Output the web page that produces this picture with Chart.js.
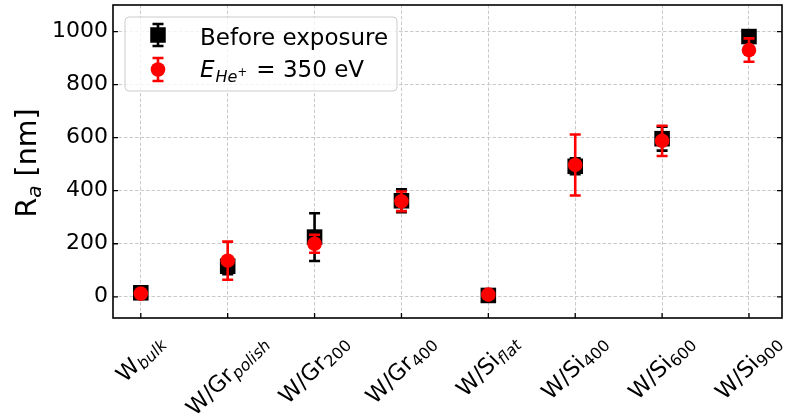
<!DOCTYPE html>
<html>
<head>
<meta charset="utf-8">
<title>Ra</title>
<script src="https://cdn.jsdelivr.net/npm/chart.js@4.4.0/dist/chart.umd.min.js"></script>
<style>
    html, body { margin: 0; padding: 0; background: #fff; }
    #wrap { width: 785px; height: 414px; }
</style>
</head>
<body>
<div id="wrap"><canvas id="raChart" width="785" height="414"></canvas></div>
<script>
// Samples: main name + subscript
const sampleNames = ['W', 'W/Gr', 'W/Gr', 'W/Gr', 'W/Si', 'W/Si', 'W/Si', 'W/Si'];
const sampleSubs = ['bulk', 'polish', '200', '400', 'flat', '400', '600', '900'];

// Roughness Ra [nm] and its error
const raBefore = [15, 115, 225, 362, 5, 492, 596, 981];
const raBeforeErr = [8, 30, 90, 43, 6, 30, 45, 20];
const raExposed = [12, 136, 200, 360, 8, 497, 588, 930];
const raExposedErr = [6, 72, 34, 37, 6, 115, 57, 44];

const yTicks = [0, 200, 400, 600, 800, 1000];

const FONT = '"DejaVu Sans"';

function toPoints(values) {
    return values.map((v, i) => ({ x: i, y: v }));
}

function fontStr(seg) {
    return (seg.italic ? 'italic ' : '') + seg.size + 'px ' + FONT;
}

function richWidth(c, segs) {
    let w = 0;
    segs.forEach(s => {
        c.font = fontStr(s);
        w += c.measureText(s.text).width + (s.gap || 0);
    });
    return w;
}

function drawRich(c, segs, x, y) {
    segs.forEach(s => {
        c.font = fontStr(s);
        c.fillText(s.text, x, y + (s.dy || 0));
        x += c.measureText(s.text).width + (s.gap || 0);
    });
}

// Vertical error bar with caps
function errBar(c, x, top, bot, color) {
    c.save();
    c.strokeStyle = color;
    c.lineWidth = 2.6;
    c.beginPath();
    c.moveTo(x, top); c.lineTo(x, bot);
    c.moveTo(x - 5.5, top); c.lineTo(x + 5.5, top);
    c.moveTo(x - 5.5, bot); c.lineTo(x + 5.5, bot);
    c.stroke();
    c.restore();
}

// Error bars drawn just under the markers of each dataset
const errorBars = {
    id: 'errorBars',
    beforeDatasetDraw(chart, args) {
        const ds = chart.data.datasets[args.index];
        const ys = chart.scales.y;
        args.meta.data.forEach((pt, i) => {
            const v = ds.data[i].y;
            const e = ds.err[i];
            errBar(chart.ctx, pt.x, ys.getPixelForValue(v + e), ys.getPixelForValue(v - e), ds.backgroundColor);
        });
    }
};

// Frame, inward ticks, rotated x labels, y title and legend
const decorations = {
    id: 'decorations',
    afterDraw(chart) {
        const c = chart.ctx;
        const a = chart.chartArea;
        const xs = chart.scales.x;
        const ys = chart.scales.y;

        c.save();
        c.strokeStyle = '#000';
        c.lineWidth = 1.3;
        c.beginPath();
        yTicks.forEach(v => {
            const py = ys.getPixelForValue(v);
            c.moveTo(a.left, py); c.lineTo(a.left + 5, py);
            c.moveTo(a.right, py); c.lineTo(a.right - 5, py);
        });
        sampleNames.forEach((_, i) => {
            const px = xs.getPixelForValue(i);
            c.moveTo(px, a.bottom); c.lineTo(px, a.bottom - 5);
        });
        c.stroke();

        c.lineWidth = 1.6;
        c.strokeRect(a.left, a.top, a.right - a.left, a.bottom - a.top);

        // x labels rotated 45 degrees
        c.fillStyle = '#000';
        c.textBaseline = 'alphabetic';
        c.textAlign = 'left';
        sampleNames.forEach((name, i) => {
            const sub = sampleSubs[i];
            const segs = [
                { text: name, size: 22.5 },
                { text: sub, size: 16, italic: /[a-z]/.test(sub), dy: 4 }
            ];
            const w = richWidth(c, segs);
            const h = 26;
            const box = (w + h) / Math.SQRT2;
            const px = xs.getPixelForValue(i);
            c.save();
            c.translate(px, a.bottom + 12 + box / 2);
            c.rotate(-Math.PI / 4);
            drawRich(c, segs, -w / 2, 6);
            c.restore();
        });

        // y axis title
        const title = [
            { text: 'R', size: 28.5 },
            { text: 'a', size: 20, italic: true, dy: 5 },
            { text: ' [nm]', size: 28.5 }
        ];
        const tw = richWidth(c, title);
        c.save();
        c.translate(36, 163);
        c.rotate(-Math.PI / 2);
        drawRich(c, title, -tw / 2, 0);
        c.restore();

        // legend
        c.beginPath();
        c.roundRect(125, 17, 272, 74, 4);
        c.fillStyle = 'rgba(255,255,255,0.8)';
        c.fill();
        c.strokeStyle = '#cccccc';
        c.lineWidth = 1;
        c.stroke();

        errBar(c, 158, 24, 46, '#000');
        c.fillStyle = '#000';
        c.fillRect(158 - 7.75, 35 - 7.75, 15.5, 15.5);

        errBar(c, 158, 58, 81, '#ff0000');
        c.fillStyle = '#ff0000';
        c.beginPath();
        c.arc(158, 69.5, 7.3, 0, Math.PI * 2);
        c.fill();

        c.fillStyle = '#000';
        drawRich(c, [{ text: 'Before exposure', size: 23 }], 200, 45);
        drawRich(c, [
            { text: 'E', size: 23, italic: true, gap: 1 },
            { text: 'He', size: 16, italic: true, dy: 4.5 },
            { text: '+', size: 11.5, dy: -1, gap: 2 },
            { text: ' = 350 eV', size: 23 }
        ], 200, 77);
        c.restore();
    }
};

function noPadding(s) {
    s.paddingTop = 0;
    s.paddingBottom = 0;
    s.paddingLeft = 0;
    s.paddingRight = 0;
}

const ctx = document.getElementById('raChart').getContext('2d');
const raChart = new Chart(ctx, {
    type: 'scatter',
    data: {
        datasets: [{
            label: 'Before exposure',
            data: toPoints(raBefore),
            err: raBeforeErr,
            pointStyle: 'rect',
            pointRadius: 11,
            backgroundColor: '#000000',
            borderWidth: 0,
            order: 2
        }, {
            label: 'E He+ = 350 eV',
            data: toPoints(raExposed),
            err: raExposedErr,
            pointStyle: 'circle',
            pointRadius: 7.3,
            backgroundColor: '#ff0000',
            borderWidth: 0,
            order: 1
        }]
    },
    options: {
        responsive: false,
        animation: false,
        devicePixelRatio: 1,
        events: [],
        layout: { autoPadding: false, padding: { left: 0, right: 3, top: 5, bottom: 0 } },
        plugins: {
            legend: { display: false },
            tooltip: { enabled: false }
        },
        scales: {
            x: {
                type: 'linear',
                min: -0.32,
                max: 7.38,
                afterBuildTicks: s => { s.ticks = sampleNames.map((_, i) => ({ value: i })); },
                afterFit: s => { s.height = 96; noPadding(s); },
                ticks: { display: false },
                grid: { color: '#c4c4c4', lineWidth: 0.9, drawTicks: false },
                border: { display: false, dash: [3.5, 2] }
            },
            y: {
                min: -80,
                max: 1100,
                afterBuildTicks: s => { s.ticks = yTicks.map(v => ({ value: v })); },
                afterFit: s => { s.width = 113; noPadding(s); },
                ticks: {
                    color: '#000',
                    padding: 5,
                    font: { family: 'DejaVu Sans', size: 22 },
                    callback: v => String(v)
                },
                grid: { color: '#c4c4c4', lineWidth: 0.9, drawTicks: false },
                border: { display: false, dash: [3.5, 2] }
            }
        }
    },
    plugins: [errorBars, decorations]
});
</script>
</body>
</html>
